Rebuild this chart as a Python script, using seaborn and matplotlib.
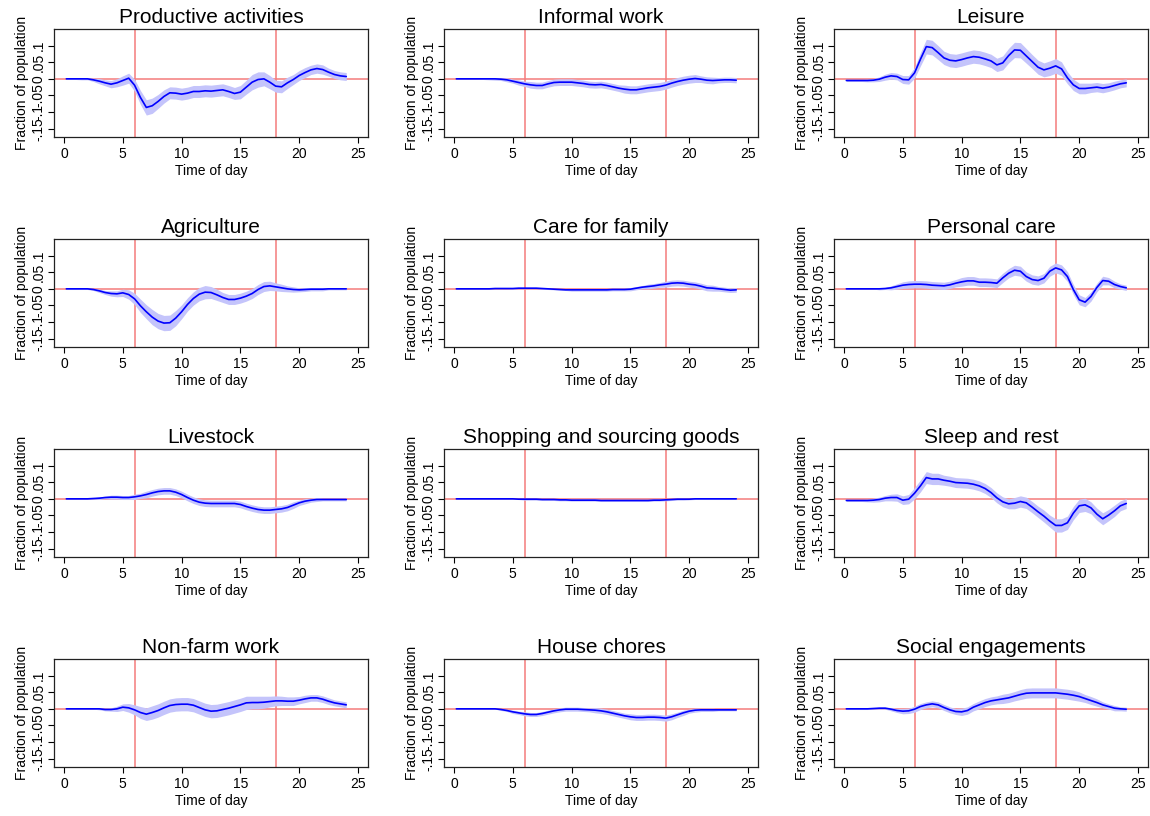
import matplotlib
matplotlib.use("Agg")
from matplotlib import pyplot as plt
import numpy as np
import pandas as pd
import seaborn as sns

# hour of day at which each estimate is read
hours = [0.2, 0.5, 1.0, 1.5, 2.0, 2.5, 3.0, 3.5, 4.0, 4.5,
         5.0, 5.5, 6.0, 6.5, 7.0, 7.5, 8.0, 8.5, 9.0, 9.5,
         10.0, 10.5, 11.0, 11.5, 12.0, 12.5, 13.0, 13.5, 14.0, 14.5,
         15.0, 15.5, 16.0, 16.5, 17.0, 17.5, 18.0, 18.5, 19.0, 19.5,
         20.0, 20.5, 21.0, 21.5, 22.0, 22.5, 23.0, 23.5, 24.0]

titles = ["Productive activities", "Informal work", "Leisure",
          "Agriculture", "Care for family", "Personal care",
          "Livestock", "Shopping and sourcing goods", "Sleep and rest",
          "Non-farm work", "House chores", "Social engagements"]

productive = [0, 0, 0, 0, 0, -0.003, -0.007, -0.012, -0.016, -0.012,
              -0.005, 0.002, -0.019, -0.056, -0.086, -0.081, -0.068, -0.053, -0.042, -0.043,
              -0.046, -0.043, -0.038, -0.038, -0.036, -0.037, -0.035, -0.033, -0.038, -0.044,
              -0.040, -0.025, -0.010, -0.002, 0.000, -0.010, -0.022, -0.024, -0.012, -0.002,
              0.010, 0.019, 0.027, 0.031, 0.028, 0.020, 0.013, 0.009, 0.007]
productive_ci = [0.002, 0.002, 0.002, 0.003, 0.003, 0.005, 0.008, 0.009, 0.011, 0.012,
                 0.014, 0.015, 0.018, 0.021, 0.023, 0.023, 0.021, 0.020, 0.018, 0.018,
                 0.018, 0.018, 0.018, 0.018, 0.018, 0.018, 0.018, 0.018, 0.018, 0.018,
                 0.020, 0.021, 0.023, 0.023, 0.021, 0.020, 0.018, 0.018, 0.017, 0.015,
                 0.015, 0.015, 0.014, 0.014, 0.014, 0.012, 0.012, 0.012, 0.012]

informal = [0, 0, 0, 0, 0, 0, 0, 0, -0.001, -0.003,
            -0.007, -0.011, -0.015, -0.018, -0.020, -0.020, -0.015, -0.011, -0.010, -0.010,
            -0.010, -0.012, -0.014, -0.017, -0.018, -0.017, -0.020, -0.024, -0.028, -0.031,
            -0.033, -0.033, -0.030, -0.027, -0.025, -0.023, -0.019, -0.013, -0.008, -0.004,
            -0.001, 0.001, -0.001, -0.004, -0.005, -0.004, -0.003, -0.003, -0.004]
informal_ci = [0.001, 0.001, 0.001, 0.001, 0.001, 0.002, 0.003, 0.004, 0.004, 0.006,
               0.006, 0.008, 0.008, 0.010, 0.010, 0.010, 0.010, 0.010, 0.010, 0.010,
               0.010, 0.010, 0.010, 0.010, 0.010, 0.010, 0.010, 0.010, 0.010, 0.012,
               0.012, 0.012, 0.012, 0.012, 0.012, 0.012, 0.012, 0.012, 0.012, 0.012,
               0.012, 0.012, 0.010, 0.010, 0.010, 0.008, 0.008, 0.008, 0.008]

leisure = [-0.005, -0.005, -0.005, -0.005, -0.005, -0.004, -0.001, 0.005, 0.009, 0.007,
           -0.002, -0.003, 0.018, 0.059, 0.097, 0.094, 0.079, 0.063, 0.056, 0.054,
           0.058, 0.063, 0.067, 0.065, 0.060, 0.054, 0.042, 0.048, 0.070, 0.087,
           0.086, 0.069, 0.052, 0.035, 0.027, 0.032, 0.039, 0.030, 0.003, -0.018,
           -0.029, -0.029, -0.027, -0.025, -0.028, -0.025, -0.020, -0.015, -0.012]
leisure_ci = [0.003, 0.003, 0.003, 0.003, 0.004, 0.005, 0.007, 0.009, 0.010, 0.010,
              0.012, 0.013, 0.016, 0.020, 0.022, 0.022, 0.021, 0.020, 0.020, 0.020,
              0.020, 0.020, 0.020, 0.020, 0.020, 0.020, 0.020, 0.021, 0.022, 0.023,
              0.023, 0.022, 0.021, 0.021, 0.021, 0.022, 0.022, 0.021, 0.018, 0.017,
              0.016, 0.016, 0.014, 0.014, 0.014, 0.013, 0.013, 0.012, 0.012]

agriculture = [0, 0, 0, 0, 0, -0.002, -0.006, -0.011, -0.014, -0.015,
               -0.012, -0.017, -0.030, -0.051, -0.069, -0.085, -0.097, -0.103, -0.102, -0.088,
               -0.069, -0.047, -0.029, -0.016, -0.010, -0.011, -0.018, -0.026, -0.032, -0.032,
               -0.028, -0.022, -0.014, -0.002, 0.007, 0.009, 0.006, 0.003, 0.000, -0.002,
               -0.003, -0.002, -0.001, -0.001, -0.001, 0, 0, 0, 0]
agriculture_ci = [0.002, 0.002, 0.002, 0.002, 0.002, 0.003, 0.005, 0.006, 0.008, 0.009,
                  0.011, 0.014, 0.017, 0.020, 0.021, 0.023, 0.023, 0.023, 0.023, 0.023,
                  0.021, 0.020, 0.020, 0.020, 0.020, 0.018, 0.017, 0.015, 0.015, 0.015,
                  0.015, 0.015, 0.015, 0.015, 0.015, 0.014, 0.012, 0.011, 0.009, 0.008,
                  0.006, 0.006, 0.005, 0.005, 0.005, 0.003, 0.003, 0.003, 0.003]

care_family = [0, 0, 0, 0, 0, 0, 0, 0.001, 0.001, 0.001,
               0.001, 0.002, 0.002, 0.002, 0.002, 0.001, 0.000, -0.001, -0.002, -0.003,
               -0.003, -0.003, -0.003, -0.003, -0.003, -0.003, -0.003, -0.002, -0.002, -0.002,
               -0.001, 0.002, 0.005, 0.007, 0.009, 0.012, 0.014, 0.017, 0.018, 0.017,
               0.014, 0.012, 0.008, 0.003, 0.002, 0.000, -0.002, -0.004, -0.003]
care_family_ci = [0.001, 0.001, 0.001, 0.001, 0.001, 0.001, 0.001, 0.001, 0.001, 0.001,
                  0.002, 0.002, 0.002, 0.002, 0.002, 0.002, 0.002, 0.002, 0.002, 0.002,
                  0.004, 0.004, 0.004, 0.004, 0.004, 0.004, 0.004, 0.004, 0.004, 0.004,
                  0.005, 0.005, 0.005, 0.007, 0.007, 0.007, 0.009, 0.009, 0.009, 0.009,
                  0.009, 0.009, 0.009, 0.009, 0.009, 0.007, 0.007, 0.007, 0.007]

personal = [0, 0, 0, 0, 0, 0, 0, 0.001, 0.003, 0.007,
            0.011, 0.013, 0.014, 0.014, 0.013, 0.011, 0.010, 0.009, 0.012, 0.017,
            0.021, 0.024, 0.024, 0.020, 0.020, 0.019, 0.017, 0.033, 0.047, 0.056,
            0.053, 0.037, 0.028, 0.025, 0.032, 0.053, 0.063, 0.057, 0.037, -0.002,
            -0.033, -0.040, -0.023, 0.004, 0.025, 0.023, 0.013, 0.007, 0.003]
personal_ci = [0.001, 0.001, 0.001, 0.001, 0.001, 0.001, 0.003, 0.003, 0.006, 0.008,
               0.010, 0.011, 0.011, 0.011, 0.011, 0.011, 0.011, 0.011, 0.011, 0.011,
               0.013, 0.013, 0.013, 0.013, 0.013, 0.013, 0.013, 0.014, 0.014, 0.015,
               0.015, 0.014, 0.014, 0.014, 0.014, 0.015, 0.015, 0.015, 0.015, 0.015,
               0.015, 0.014, 0.014, 0.013, 0.013, 0.011, 0.010, 0.008, 0.008]

livestock = [0, 0, 0, 0, 0, 0.001, 0.002, 0.004, 0.005, 0.005,
             0.004, 0.004, 0.006, 0.009, 0.013, 0.018, 0.022, 0.024, 0.024, 0.020,
             0.013, 0.004, -0.004, -0.010, -0.013, -0.014, -0.014, -0.014, -0.014, -0.014,
             -0.017, -0.023, -0.028, -0.032, -0.034, -0.034, -0.032, -0.030, -0.026, -0.019,
             -0.012, -0.007, -0.004, -0.002, -0.002, -0.002, -0.002, -0.002, -0.002]
livestock_ci = [0.001, 0.001, 0.001, 0.001, 0.001, 0.002, 0.004, 0.004, 0.006, 0.006,
                0.006, 0.006, 0.008, 0.008, 0.010, 0.010, 0.010, 0.010, 0.010, 0.010,
                0.010, 0.010, 0.010, 0.010, 0.010, 0.010, 0.010, 0.010, 0.010, 0.010,
                0.010, 0.010, 0.010, 0.010, 0.010, 0.010, 0.010, 0.010, 0.010, 0.010,
                0.008, 0.008, 0.006, 0.006, 0.004, 0.004, 0.004, 0.004, 0.004]

shopping = [0, 0, 0, 0, 0, 0, 0, 0, 0, 0,
            0, -0.001, -0.001, -0.001, -0.001, -0.002, -0.002, -0.002, -0.003, -0.003,
            -0.004, -0.004, -0.004, -0.004, -0.004, -0.005, -0.005, -0.005, -0.005, -0.005,
            -0.005, -0.005, -0.005, -0.005, -0.004, -0.004, -0.003, -0.002, -0.001, -0.001,
            -0.001, 0, 0, 0, 0, 0, 0, 0, 0]
shopping_ci = [0.001, 0.001, 0.001, 0.001, 0.001, 0.001, 0.001, 0.001, 0.001, 0.001,
               0.001, 0.001, 0.003, 0.003, 0.003, 0.003, 0.003, 0.003, 0.003, 0.003,
               0.003, 0.003, 0.003, 0.003, 0.003, 0.003, 0.003, 0.003, 0.003, 0.003,
               0.003, 0.003, 0.003, 0.003, 0.003, 0.003, 0.003, 0.003, 0.003, 0.003,
               0.002, 0.002, 0.002, 0.002, 0.002, 0.002, 0.002, 0.002, 0.002]

sleep = [-0.005, -0.005, -0.005, -0.005, -0.005, -0.004, -0.002, 0.002, 0.004, 0.004,
         -0.004, -0.001, 0.017, 0.039, 0.064, 0.060, 0.060, 0.056, 0.053, 0.049,
         0.048, 0.047, 0.044, 0.039, 0.031, 0.019, 0.003, -0.009, -0.015, -0.013,
         -0.008, -0.012, -0.025, -0.039, -0.052, -0.067, -0.080, -0.080, -0.072, -0.043,
         -0.021, -0.018, -0.027, -0.046, -0.060, -0.049, -0.036, -0.021, -0.014]
sleep_ci = [0.003, 0.003, 0.003, 0.003, 0.004, 0.006, 0.007, 0.008, 0.010, 0.011,
            0.013, 0.014, 0.017, 0.018, 0.018, 0.017, 0.017, 0.015, 0.015, 0.015,
            0.015, 0.015, 0.015, 0.015, 0.015, 0.015, 0.015, 0.015, 0.015, 0.017,
            0.017, 0.017, 0.017, 0.017, 0.018, 0.018, 0.020, 0.020, 0.020, 0.020,
            0.020, 0.020, 0.018, 0.018, 0.018, 0.017, 0.017, 0.015, 0.015]

nonfarm = [0, 0, 0, 0, 0, 0, 0, -0.002, -0.002, 0.000,
           0.005, 0.003, -0.003, -0.011, -0.016, -0.011, -0.005, 0.003, 0.010, 0.013,
           0.014, 0.014, 0.011, 0.004, -0.003, -0.007, -0.006, -0.002, 0.002, 0.007,
           0.012, 0.018, 0.019, 0.019, 0.020, 0.022, 0.024, 0.024, 0.023, 0.023,
           0.026, 0.030, 0.033, 0.033, 0.029, 0.023, 0.018, 0.015, 0.012]
nonfarm_ci = [0.001, 0.001, 0.001, 0.001, 0.001, 0.001, 0.003, 0.004, 0.005, 0.008,
              0.010, 0.013, 0.015, 0.018, 0.019, 0.020, 0.020, 0.020, 0.020, 0.020,
              0.020, 0.020, 0.020, 0.020, 0.020, 0.020, 0.020, 0.020, 0.020, 0.020,
              0.020, 0.020, 0.019, 0.019, 0.018, 0.016, 0.015, 0.014, 0.013, 0.013,
              0.011, 0.011, 0.010, 0.010, 0.010, 0.010, 0.009, 0.009, 0.009]

chores = [0, 0, 0, 0, 0, 0, 0, 0, -0.002, -0.005,
          -0.009, -0.012, -0.015, -0.017, -0.017, -0.014, -0.010, -0.006, -0.003, -0.001,
          -0.001, -0.001, -0.002, -0.003, -0.004, -0.006, -0.009, -0.013, -0.017, -0.021,
          -0.024, -0.026, -0.026, -0.025, -0.025, -0.026, -0.028, -0.024, -0.018, -0.012,
          -0.007, -0.004, -0.003, -0.003, -0.003, -0.003, -0.003, -0.003, -0.003]
chores_ci = [0.001, 0.001, 0.001, 0.001, 0.001, 0.001, 0.001, 0.001, 0.003, 0.003,
             0.005, 0.005, 0.006, 0.006, 0.006, 0.006, 0.006, 0.006, 0.006, 0.006,
             0.006, 0.006, 0.006, 0.006, 0.008, 0.008, 0.008, 0.008, 0.008, 0.008,
             0.009, 0.009, 0.009, 0.009, 0.009, 0.009, 0.009, 0.009, 0.008, 0.008,
             0.006, 0.006, 0.005, 0.005, 0.005, 0.003, 0.003, 0.003, 0.003]

social = [0, 0, 0, 0, 0, 0.001, 0.002, 0.002, -0.001, -0.005,
          -0.007, -0.006, -0.001, 0.007, 0.012, 0.015, 0.012, 0.004, -0.003, -0.008,
          -0.009, -0.005, 0.005, 0.012, 0.019, 0.024, 0.027, 0.030, 0.033, 0.038,
          0.043, 0.047, 0.048, 0.048, 0.048, 0.048, 0.048, 0.046, 0.044, 0.041,
          0.037, 0.031, 0.025, 0.019, 0.012, 0.007, 0.002, 0.000, -0.001]
social_ci = [0.002, 0.002, 0.002, 0.002, 0.002, 0.002, 0.003, 0.003, 0.005, 0.006,
             0.008, 0.008, 0.009, 0.009, 0.009, 0.009, 0.009, 0.009, 0.009, 0.009,
             0.011, 0.011, 0.011, 0.012, 0.012, 0.012, 0.012, 0.014, 0.014, 0.014,
             0.015, 0.015, 0.015, 0.015, 0.015, 0.015, 0.015, 0.015, 0.015, 0.015,
             0.014, 0.012, 0.012, 0.011, 0.009, 0.008, 0.008, 0.006, 0.006]

series = [(productive, productive_ci), (informal, informal_ci), (leisure, leisure_ci),
          (agriculture, agriculture_ci), (care_family, care_family_ci), (personal, personal_ci),
          (livestock, livestock_ci), (shopping, shopping_ci), (sleep, sleep_ci),
          (nonfarm, nonfarm_ci), (chores, chores_ci), (social, social_ci)]

ytick_vals = [-0.15, -0.1, -0.05, 0, 0.05, 0.1]
ytick_labels = ["-.15", "-.1", "-.05", "0", ".05", ".1"]
xtick_vals = [0, 5, 10, 15, 20, 25]
ref_hours = [6, 18]

#%%
sns.set_style("ticks")
plt.rcParams["font.family"] = ["Liberation Sans", "DejaVu Sans"]
plt.rcParams.update({"text.color": "black", "axes.labelcolor": "black",
                     "xtick.color": "black", "ytick.color": "black"})

W, H = 1150, 816
fig = plt.figure(figsize=(W / 100, H / 100), dpi=100)

band_color = "#c4c4fb"
ref_color = "#f47c7c"
col_left = [54, 444, 834]
row_top = [29, 239, 449, 659]
ax_w, ax_h = 314, 108

for i, (title, (mean, ci)) in enumerate(zip(titles, series)):
    r, c = divmod(i, 3)
    ax = fig.add_axes([col_left[c] / W, 1 - (row_top[r] + ax_h) / H, ax_w / W, ax_h / H])

    df = pd.DataFrame({"hour": hours, "mean": mean, "ci": ci})
    df["lo"] = df["mean"] - df["ci"]
    df["hi"] = df["mean"] + df["ci"]

    for h in ref_hours:
        ax.axvline(h, color=ref_color, lw=1.1, zorder=1)
    ax.axhline(0, color=ref_color, lw=1.1, zorder=1)

    ax.fill_between(df["hour"], df["lo"], df["hi"], color=band_color, lw=0, zorder=2)
    sns.lineplot(data=df, x="hour", y="mean", ax=ax, color="#0000ff", lw=1.2,
                 zorder=3, estimator=None)

    ax.set_xlim(-0.85, 25.85)
    ax.set_ylim(-0.175, 0.15)
    ax.set_xticks(xtick_vals)
    ax.set_yticks(ytick_vals)
    ax.set_yticklabels(ytick_labels, rotation=90, va="center")
    ax.tick_params(axis="both", direction="out", length=4, width=0.8,
                   labelsize=10, pad=2)
    ax.tick_params(axis="x", pad=3)
    for s in ax.spines.values():
        s.set_visible(True)
        s.set_linewidth(0.9)
        s.set_color("#222222")

    ax.set_title(title, fontsize=15, pad=4)
    ax.set_xlabel("Time of day", fontsize=10, labelpad=2)
    ax.set_ylabel("Fraction of population", fontsize=10, labelpad=2)

fig.savefig("out.png", dpi=100, facecolor="white")
